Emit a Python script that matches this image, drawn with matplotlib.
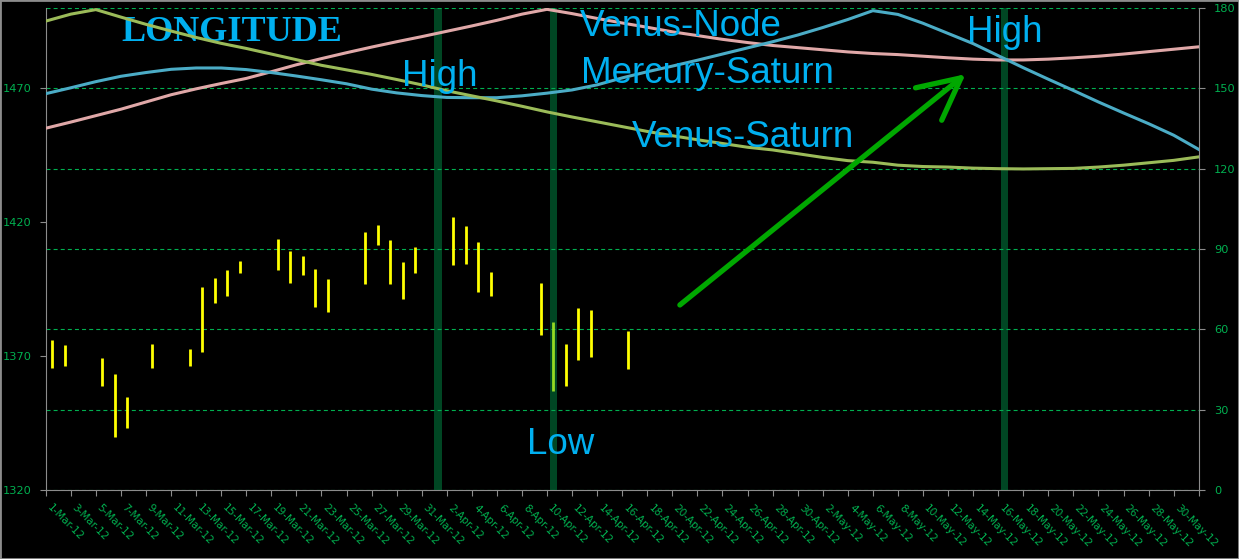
import numpy as np
import pandas as pd
import matplotlib
matplotlib.use("Agg")
import matplotlib.pyplot as plt
from matplotlib.patches import FancyArrowPatch, Rectangle

# calendar of the category axis (one slot per day)
days = pd.date_range("2012-03-01", "2012-05-31", freq="D")

# daily high / low bars (left axis)
bar_dates = ["2012-03-01", "2012-03-02", "2012-03-05", "2012-03-06", "2012-03-07",
             "2012-03-09", "2012-03-12", "2012-03-13", "2012-03-14", "2012-03-15",
             "2012-03-16", "2012-03-19", "2012-03-20", "2012-03-21", "2012-03-22",
             "2012-03-23", "2012-03-26", "2012-03-27", "2012-03-28", "2012-03-29",
             "2012-03-30", "2012-04-02", "2012-04-03", "2012-04-04", "2012-04-05",
             "2012-04-09", "2012-04-10", "2012-04-11", "2012-04-12", "2012-04-13",
             "2012-04-16"]
highs = [1376.0, 1374.1, 1369.3, 1363.3, 1354.7, 1374.5, 1372.7, 1395.8, 1399.2, 1402.2,
         1405.5, 1413.7, 1409.2, 1407.4, 1402.5, 1398.8, 1416.3, 1419.0, 1413.4, 1405.1,
         1410.7, 1421.9, 1418.6, 1412.6, 1401.4, 1397.3, 1382.7, 1374.5, 1388.0, 1387.2,
         1379.4]
lows = [1365.7, 1366.4, 1358.9, 1339.9, 1343.3, 1365.7, 1366.4, 1371.6, 1389.9, 1392.6,
        1401.1, 1402.3, 1397.4, 1400.4, 1388.4, 1386.6, 1396.9, 1411.5, 1396.9, 1391.3,
        1401.0, 1404.0, 1404.4, 1393.9, 1392.4, 1377.9, 1357.0, 1358.8, 1368.5, 1369.7,
        1365.2]

# planetary angles (right axis), read every second day boundary
venus_node = [135.1, 137.4, 139.8, 142.2, 144.9, 147.6, 149.8, 151.8, 153.7, 156.2,
              158.8, 161.1, 163.3, 165.4, 167.4, 169.3, 171.3, 173.3, 175.4, 177.7,
              179.5, 177.9, 176.1, 174.4, 172.8, 171.1, 169.7, 168.3, 167.1, 166.0,
              165.2, 164.4, 163.6, 163.0, 162.6, 162.0, 161.4, 160.9, 160.6, 160.6,
              160.9, 161.4, 162.0, 162.8, 163.7, 164.6, 165.5]
mercury_saturn = [148.0, 150.2, 152.5, 154.5, 155.9, 157.1, 157.6, 157.6, 157.0, 155.9,
                  154.6, 153.2, 151.7, 149.7, 148.3, 147.3, 146.6, 146.5, 146.5, 147.2,
                  148.2, 149.4, 151.3, 153.9, 156.2, 158.3, 160.5, 162.8, 165.1, 167.4,
                  169.9, 172.7, 175.7, 179.0, 177.6, 174.3, 170.5, 166.7, 162.2, 157.7,
                  153.4, 149.2, 144.9, 140.8, 136.8, 132.5, 127.2]
venus_saturn = [175.1, 177.7, 179.4, 176.6, 173.9, 171.4, 169.0, 166.8, 164.9, 162.8,
                160.7, 158.6, 156.9, 155.2, 153.3, 151.3, 149.1, 147.2, 145.3, 143.3,
                141.2, 139.3, 137.5, 135.7, 133.9, 132.3, 130.8, 129.4, 128.0, 127.0,
                125.6, 124.2, 123.0, 122.4, 121.3, 120.8, 120.6, 120.2, 120.0, 119.9,
                120.0, 120.1, 120.6, 121.3, 122.2, 123.1, 124.4]

# turning-point markers (day slot positions)
turn_slots = [30.8, 40, 76]

left_ticks = [1320, 1370, 1420, 1470]
right_ticks = [0, 30, 60, 90, 120, 150, 180]

txt_green = "#00B050"
txt_blue = "#00B0F0"

fig = plt.figure(figsize=(12.39, 5.59), dpi=100, facecolor="black")
ax = fig.add_axes([0.0369, 0.1234, 0.9306, 0.8623])
ax.set_facecolor("black")
axp = ax.twinx()
axc = ax.twinx()

n = len(days)
ax.set_xlim(-0.5, n - 0.5)

# right axis with grid
ax.set_ylim(0, 180)
ax.yaxis.tick_right()
ax.set_yticks(right_ticks)
ax.yaxis.grid(True, color=txt_green, linestyle=(0, (3.6, 2.8)), linewidth=0.8)
ax.tick_params(axis="y", colors="#8c8c8c", labelcolor=txt_green, labelsize=8.2,
               length=4, direction="out", pad=7)

# x axis: tick marks at day boundaries, labels every second day
ax.set_xticks(np.arange(-0.5, n, 2))
ax.set_xticklabels([])
ax.set_xticks(np.arange(0, n, 2), minor=True)
ax.set_xticklabels([f"{d.day}-{d.strftime('%b-%y')}" for d in days[::2]], minor=True,
                   rotation=-45, ha="left", va="top", rotation_mode="anchor")
ax.tick_params(axis="x", which="major", colors="#8c8c8c", length=4, direction="out")
ax.tick_params(axis="x", which="minor", length=0, labelcolor=txt_green, labelsize=7.5, pad=9)

for side in ["left", "right", "bottom"]:
    ax.spines[side].set_color("#8c8c8c")
ax.spines["top"].set_visible(False)

# left price axis
axp.set_ylim(1320, 1500)
axp.yaxis.tick_left()
axp.set_yticks(left_ticks)
axp.tick_params(axis="y", colors="#8c8c8c", labelcolor=txt_green, labelsize=8.2,
                length=4, direction="out", pad=6)
for s in axp.spines.values():
    s.set_visible(False)

pos = {d: i for i, d in enumerate(days.strftime("%Y-%m-%d"))}
bx = [pos[d] for d in bar_dates]
axp.vlines(bx, lows, highs, color="#FFFF00", linewidth=2.0, zorder=2)

for t in turn_slots:
    axp.axvspan(t - 0.28, t + 0.28, color="#00A854", alpha=0.42, lw=0, zorder=3)

# curves
axc.set_ylim(0, 180)
axc.set_yticks([])
for s in axc.spines.values():
    s.set_visible(False)
line_x = np.arange(-0.5, n, 2)
axc.plot(line_x, venus_node, color="#E0A8A8", linewidth=2.2, zorder=4)
axc.plot(line_x, mercury_saturn, color="#4BACC6", linewidth=2.2, zorder=4)
axc.plot(line_x, venus_saturn, color="#9BBB59", linewidth=2.2, zorder=4)

# labels
axc.text(5.5, 167.8, "LONGITUDE", family="Liberation Serif", fontweight="bold",
         fontsize=26, color=txt_blue, ha="left", va="baseline")
notes = [("High", 27.9, 150.9), ("Venus-Node", 42.1, 169.5),
         ("Mercury-Saturn", 42.2, 151.9), ("Venus-Saturn", 46.3, 128.2),
         ("High", 73.0, 167.4), ("Low", 37.9, 13.4)]
for label, x, y in notes:
    axc.text(x, y, label, family="Liberation Sans", fontsize=26.5, color=txt_blue,
             ha="left", va="baseline", zorder=6)

arrow = FancyArrowPatch((50.1, 69.1), (72.9, 155.3), arrowstyle="->,head_length=30,head_width=15",
                        mutation_scale=1, color="#00A800", linewidth=3.8,
                        shrinkA=0, shrinkB=0, zorder=5)
axc.add_patch(arrow)

fig.patches.append(Rectangle((0, 0), 1, 1, transform=fig.transFigure, fill=False,
                             edgecolor="#8c8c8c", linewidth=2))

fig.savefig("out.png", dpi=100, facecolor="black")
